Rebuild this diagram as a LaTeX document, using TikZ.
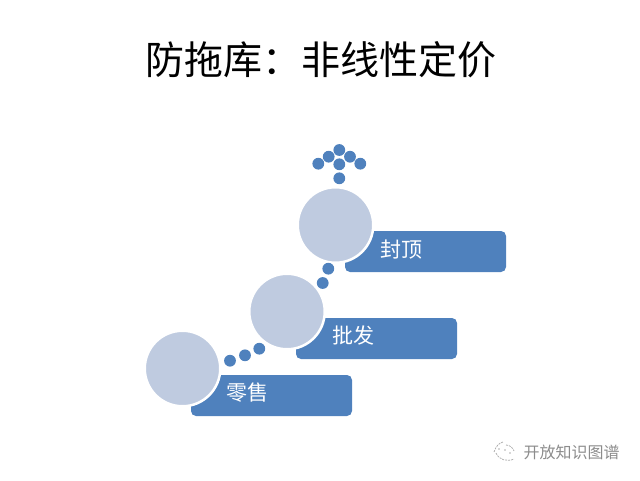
\documentclass[tikz,border=0pt]{standalone}
\usepackage{fontspec}
\newfontfamily\cjk{Noto Sans CJK SC}
\definecolor{barblue}{HTML}{4F81BD}
\definecolor{discblue}{HTML}{BFCBE0}
\definecolor{markgray}{HTML}{8C8C8C}
\tikzset{
  bar/.style={draw=none,fill=barblue,rounded corners=5pt,minimum width=161pt,minimum height=41pt,inner sep=0pt},
  disc/.style={circle,draw=white,line width=2.5pt,fill=discblue,minimum size=75.5pt,inner sep=0pt},
  dot/.style={circle,draw=none,fill=barblue,minimum size=11.8pt,inner sep=0pt},
  barlabel/.style={text=white,font=\cjk\fontsize{21}{21}\selectfont,inner sep=0pt},
}
\begin{document}
\begin{tikzpicture}[x=1pt,y=-1pt]
\useasboundingbox (0,0) rectangle (640,480);
\node[font=\cjk\fontsize{39}{39}\selectfont,text=black,inner sep=0pt] (title) at (321,60) {防拖库：非线性定价};
\node[bar] (bar1) at (271.5,395.5) {};
\node[bar] (bar2) at (376.5,338.5) {};
\node[bar] (bar3) at (425.5,251.5) {};
\node[disc] (disc1) at (182.5,368.5) {};
\node[disc] (disc2) at (287,311.5) {};
\node[disc] (disc3) at (335.5,225) {};
\node[barlabel] (lab1) at (247,393) {零售};
\node[barlabel] (lab2) at (353,336) {批发};
\node[barlabel] (lab3) at (401,250) {封顶};
\node[dot] (a1) at (230,360.7) {};
\node[dot] (a2) at (245,355.3) {};
\node[dot] (a3) at (259.3,348.7) {};
\node[dot] (b1) at (322.7,283) {};
\node[dot] (b2) at (328.3,268.7) {};
\node[dot] (c1) at (339.3,178.3) {};
\node[dot] (c2) at (339.3,164.3) {};
\node[dot] (c3) at (339.3,150) {};
\node[dot] (c4) at (328.7,156.7) {};
\node[dot] (c5) at (350,156.7) {};
\node[dot] (c6) at (318.3,163.7) {};
\node[dot] (c7) at (360.3,163.7) {};
\node[text=markgray,font=\cjk\fontsize{16}{16}\selectfont,inner sep=0pt] (mark) at (571.5,452) {开放知识图谱};
\draw[markgray!70,line width=.8pt,dash pattern=on 2pt off 1pt] (494,452) .. controls (496,446) and (499,443) .. (503,442) (496,453) .. controls (499,460) and (507,462) .. (514,459) (506,445) .. controls (510,445) and (513,448) .. (514,451);
\fill[markgray!70] (499,449) circle (.9pt) (505,450) circle (.9pt) (510,453) circle (.9pt);
\end{tikzpicture}
\end{document}
